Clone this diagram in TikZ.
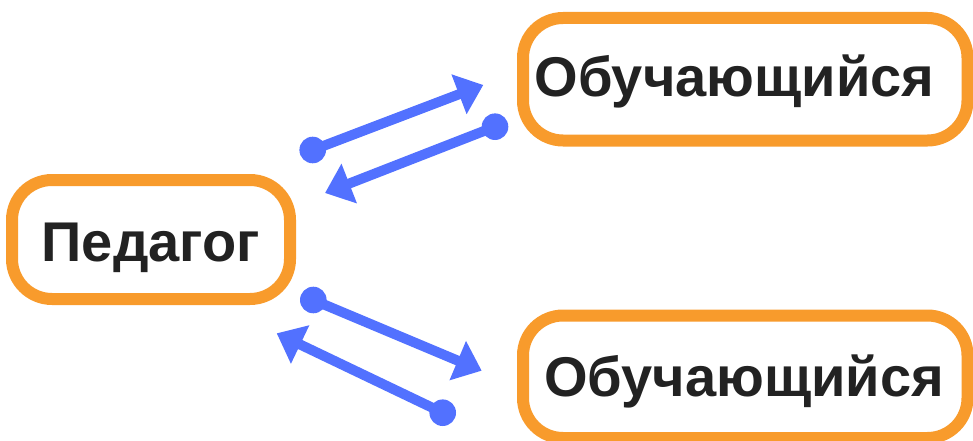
\documentclass[tikz,border=0pt]{standalone}
\usepackage{fontspec}
\setmainfont{Liberation Sans}
\usetikzlibrary{arrows.meta}
\definecolor{boxorange}{HTML}{F89B2C}
\definecolor{arrblue}{HTML}{5271FF}
\definecolor{txtdark}{HTML}{222222}
\tikzset{
  box/.style={draw=boxorange, line width=12pt, rounded corners=40pt, fill=white, inner sep=0pt},
  lbl/.style={text=txtdark, font=\fontsize{56}{62}\selectfont\bfseries, inner sep=0pt},
  dot/.style={circle, fill=arrblue, minimum size=26.6pt, inner sep=0pt},
  arr/.style={draw=arrblue, line width=10pt, -{Triangle[length=26pt,width=41pt]}}
}
\begin{document}
\begin{tikzpicture}[x=1pt,y=-1pt]
\useasboundingbox (0,0) rectangle (973,441);
\clip (0,0) rectangle (973,441);
% boxes
\node[box, minimum width=278pt, minimum height=119pt] (ped) at (151,239.5) {};
\node[box, minimum width=444.5pt, minimum height=122.5pt] (ob1) at (745.25,79.25) {};
\node[box, minimum width=444.5pt, minimum height=122.5pt] (ob2) at (745.25,376.75) {};
% labels
\node[lbl, anchor=base] (pedt) at (150.8,261.5) {Педагог};
\node[lbl, anchor=base] (ob1t) at (734.5,96) {Обучающийся};
\node[lbl, anchor=base] (ob2t) at (744,396) {Обучающийся};
% dots
\node[dot] (d1) at (312.7,150) {};
\node[dot] (d2) at (495,126.7) {};
\node[dot] (d3) at (313.3,300) {};
\node[dot] (d4) at (442.7,412.7) {};
% arrow tips
\coordinate (e1) at (483.3,85);
\coordinate (e2) at (325,193);
\coordinate (e3) at (481.7,370.7);
\coordinate (e4) at (276.7,333.3);
% connectors
\draw[arr] (d1.center) -- (e1);
\draw[arr] (d2.center) -- (e2);
\draw[arr] (d3.center) -- (e3);
\draw[arr] (d4.center) -- (e4);
\end{tikzpicture}
\end{document}
